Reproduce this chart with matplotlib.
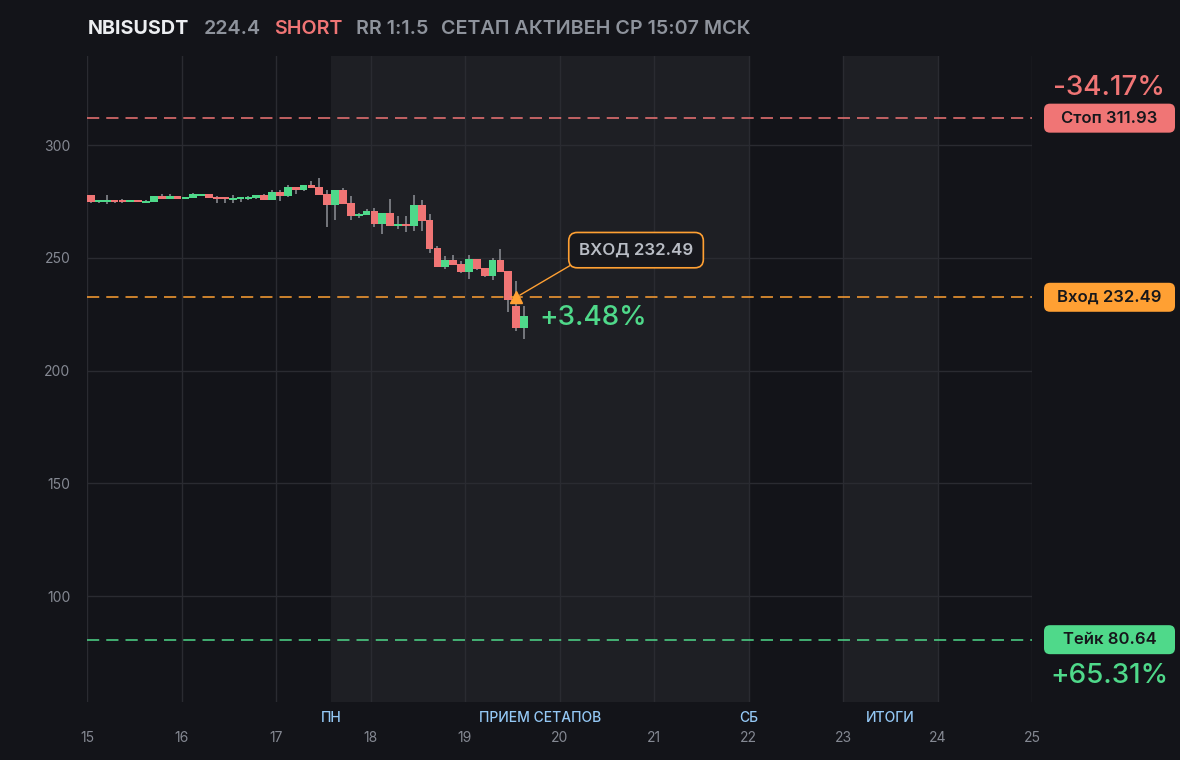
import matplotlib
matplotlib.use("Agg")
import matplotlib.pyplot as plt
import matplotlib.transforms as mtransforms
from matplotlib.patches import FancyBboxPatch

# ---- data ----
symbol = "NBISUSDT"
last_price = 224.4
side = "SHORT"
rr_text = "RR 1:1.5"
status_text = "СЕТАП АКТИВЕН СР 15:07 МСК"

stop_price = 311.93
entry_price = 232.49
take_price = 80.64
stop_pct = "-34.17%"
take_pct = "+65.31%"
entry_pct = "+3.48%"

day_ticks = [15, 16, 17, 18, 19, 20, 21, 22, 23, 24, 25]
y_ticks = [100, 150, 200, 250, 300]
session_labels = ["ПН", "ПРИЕМ СЕТАПОВ", "СБ", "ИТОГИ"]
session_label_x = [17.583, 19.79, 22.0, 23.5]
shaded_spans = [(17.583, 22.0), (23.0, 24.0)]

first_day = 15.0
candle_hours = 2
entry_candle = 54

opens = [277.8, 274.7, 274.9, 275.6, 275.5, 274.8, 275.5, 274.3, 274.8, 277.4,
         276.1, 277.4, 276.1, 276.5, 277.4, 278.3, 276.9, 276.9, 275.6, 276.1,
         276.1, 276.5, 277.8, 275.6, 279.2, 277.4, 281.4, 280.0, 282.3, 281.4,
         278.3, 273.4, 280.0, 274.3, 268.5, 269.0, 270.7, 265.0, 269.8, 264.1,
         265.0, 264.1, 273.4, 266.7, 254.3, 245.9, 249.0, 247.2, 243.7, 249.4,
         245.5, 241.9, 249.0, 244.1, 228.6, 218.8]
closes = [274.7, 275.6, 275.4, 274.8, 274.8, 275.6, 274.8, 275.2, 277.4, 276.1,
          277.4, 276.1, 276.9, 278.3, 278.3, 276.5, 276.1, 276.1, 276.5, 276.9,
          276.9, 277.8, 275.6, 279.2, 277.4, 281.4, 280.0, 282.3, 280.9, 277.8,
          273.4, 280.0, 273.8, 268.5, 269.4, 270.7, 265.0, 269.8, 264.1, 265.0,
          264.1, 273.4, 266.3, 253.9, 245.9, 249.0, 246.8, 243.7, 249.4, 245.0,
          241.9, 249.0, 243.7, 231.3, 218.8, 224.4]
highs = [277.8, 275.6, 277.8, 275.6, 276.3, 275.6, 275.5, 275.6, 277.4, 278.3,
         278.3, 277.4, 276.9, 278.8, 278.3, 278.3, 277.4, 276.9, 277.8, 276.9,
         277.4, 277.8, 278.3, 280.0, 280.0, 282.3, 281.4, 282.3, 284.0, 285.4,
         280.0, 280.0, 280.9, 277.4, 269.8, 271.5, 272.1, 269.8, 276.1, 268.5,
         268.5, 277.8, 275.6, 269.4, 255.2, 250.8, 251.2, 248.6, 251.2, 249.4,
         245.5, 249.9, 253.9, 244.1, 239.7, 228.6]
lows = [274.3, 274.5, 273.8, 274.3, 274.3, 274.8, 274.8, 274.3, 274.8, 276.1,
        276.1, 276.1, 276.1, 276.5, 277.4, 276.5, 274.3, 274.3, 274.3, 274.7,
        275.6, 276.1, 275.6, 275.6, 275.2, 276.9, 278.3, 279.6, 280.9, 277.8,
        263.6, 266.7, 273.8, 266.7, 267.5, 269.0, 263.6, 260.5, 264.1, 262.75,
        261.4, 261.9, 261.9, 252.1, 245.9, 245.0, 246.8, 243.2, 240.6, 244.6,
        241.5, 240.1, 243.7, 226.0, 217.5, 214.0]

# ---- style ----
BG = "#131419"
SHADE = "#1e1f24"
GRID = "#2a2b31"
RED = "#f07575"
GREEN = "#4fd98a"
ORANGE = "#ffa033"
WICK = "#85878d"
TICK = "#858993"
LABEL_BLUE = "#94c8f5"

plt.rcParams["font.family"] = ["Inter", "DejaVu Sans"]

fig = plt.figure(figsize=(11.8, 7.6), dpi=100, facecolor=BG)
ax = fig.add_axes([87 / 1180, 1 - 702 / 760, 945 / 1180, 646 / 760])
ax.set_facecolor(BG)
ax.set_xlim(15, 25)
ax.set_ylim(53.0, 339.5)

for a, b in shaded_spans:
    ax.axvspan(a, b, color=SHADE, zorder=0, lw=0)

for d in day_ticks:
    ax.axvline(d, color=GRID, lw=1, zorder=1)
for v in y_ticks:
    ax.axhline(v, color=GRID, lw=1, zorder=1)

# candles
step = candle_hours / 24
for i, (o, h, l, c) in enumerate(zip(opens, highs, lows, closes)):
    x = first_day + (i + 0.5) * step
    col = GREEN if c >= o else RED
    ax.vlines(x, l, h, color=WICK, lw=1.2, zorder=2)
    bottom = min(o, c)
    height = max(abs(c - o), 0.9)
    ax.bar(x, height, bottom=bottom, width=step * 0.98, color=col,
           lw=0, zorder=3)

# level lines
for price, col in [(stop_price, RED), (entry_price, ORANGE), (take_price, GREEN)]:
    ax.axhline(price, color=col, lw=1.1, dashes=(8, 4.6), zorder=4)

# entry marker and callout
entry_x = first_day + (entry_candle + 0.5) * step
ax.plot(entry_x, entry_price, marker="^", ms=8.5, color=ORANGE, zorder=6)
ax.annotate(f"ВХОД {entry_price:.2f}", xy=(entry_x, entry_price),
            xytext=(20.81, 253.4), ha="center", va="center",
            fontsize=12.2, fontweight="semibold", color="#b9bdc5", zorder=7,
            bbox=dict(boxstyle="round,pad=0.6,rounding_size=0.5",
                      fc="#17181d", ec=ORANGE, lw=1.2),
            arrowprops=dict(arrowstyle="-", color=ORANGE, lw=1,
                            relpos=(0.04, 0.0), shrinkA=0, shrinkB=3))
ax.text(19.79, 223.3, entry_pct, color=GREEN, fontsize=20,
        fontweight="medium", ha="left", va="center", zorder=7)

# axes cosmetics
for s in ax.spines.values():
    s.set_visible(False)
ax.set_xticks(day_ticks)
ax.set_xticklabels([str(d) for d in day_ticks])
ax.set_yticks(y_ticks)
ax.tick_params(axis="both", length=0, colors=TICK, labelsize=10)
ax.tick_params(axis="x", pad=21)
ax.tick_params(axis="y", pad=12)

xtrans = mtransforms.blended_transform_factory(ax.transData, ax.transAxes)
for lab, xs in zip(session_labels, session_label_x):
    ax.text(xs, -0.024, lab, transform=xtrans, ha="center", va="center",
            color=LABEL_BLUE, fontsize=10, fontweight="medium")

# right side price badges
fig.canvas.draw()
for label, price, col in [("Стоп", stop_price, RED),
                          ("Вход", entry_price, ORANGE),
                          ("Тейк", take_price, GREEN)]:
    ypx = ax.transData.transform((20, price))[1]
    x0, x1 = 1044, 1175
    hgt = 29
    patch = FancyBboxPatch((x0 / 100, (ypx - hgt / 2) / 100), (x1 - x0) / 100,
                           hgt / 100, boxstyle="round,pad=0,rounding_size=0.06",
                           transform=fig.dpi_scale_trans, fc=col, ec="none")
    fig.add_artist(patch)
    fig.text((x0 + x1) / 2 / 1180, ypx / 760, f"{label} {price:.2f}",
             ha="center", va="center", fontsize=12, fontweight="semibold",
             color="#16171b")

fig.text(1109 / 1180, 1 - 88 / 760, stop_pct, ha="center", va="center",
         fontsize=20, color=RED, fontweight="medium")
fig.text(1109 / 1180, 1 - 676 / 760, take_pct, ha="center", va="center",
         fontsize=20, color=GREEN, fontweight="medium")

# header
hy = 1 - 29 / 760
fig.text(88 / 1180, hy, symbol, color="#eceef1", fontsize=14.2,
         fontweight="bold", va="center")
fig.text(204 / 1180, hy, f"{last_price}", color="#8e939c", fontsize=14.2,
         fontweight="semibold", va="center")
fig.text(274 / 1180, hy, side, color=RED, fontsize=14.2,
         fontweight="semibold", va="center")
fig.text(356 / 1180, hy, rr_text, color="#8e939c", fontsize=14.2,
         fontweight="semibold", va="center")
fig.text(441 / 1180, hy, status_text, color="#8e939c", fontsize=14.2,
         fontweight="semibold", va="center")

fig.savefig("out.png", dpi=100, facecolor=BG)
